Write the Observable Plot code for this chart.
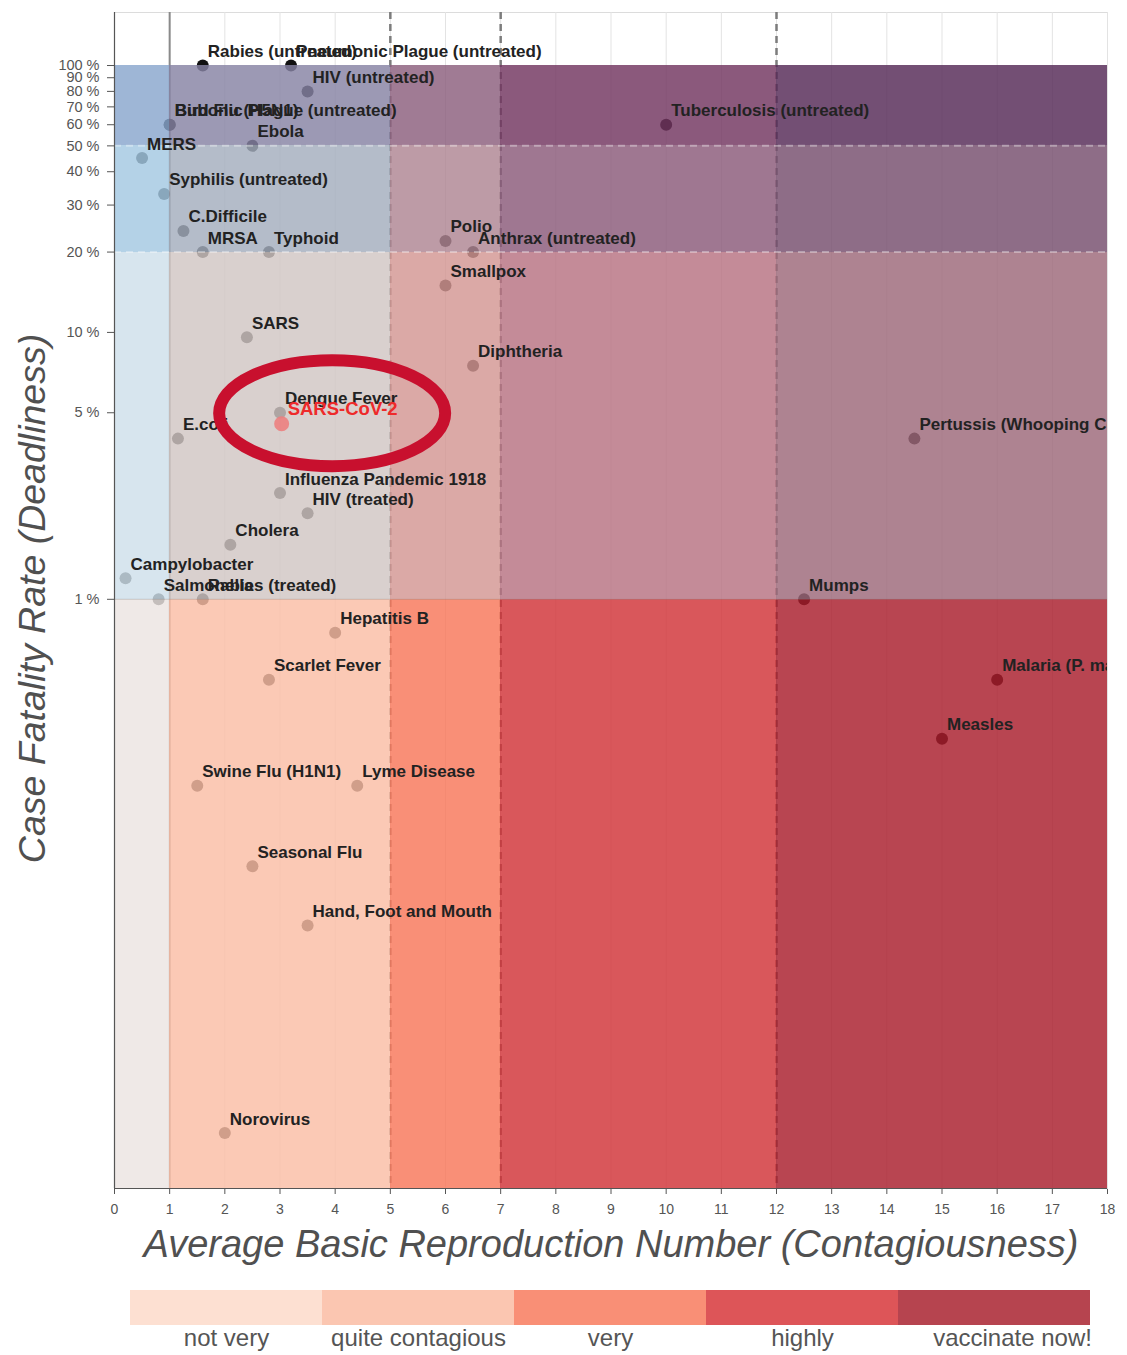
<!DOCTYPE html>
<html>
<head>
<meta charset="utf-8">
<script src="https://cdn.jsdelivr.net/npm/d3@7"></script>
<script src="https://cdn.jsdelivr.net/npm/@observablehq/plot@0.6"></script>
<style>
  body { margin: 0; background: #fff; font-family: "Liberation Sans", Arial, sans-serif; }
  #chart svg, #legend svg { display: block; }
</style>
</head>
<body>
<div id="chart"></div>
<div id="legend"></div>
<script>
// ---- data ----
const diseases = [
  "Rabies (untreated)", "Pneumonic Plague (untreated)", "HIV (untreated)", "Bird Flu (H5N1)",
  "Bubonic Plague (untreated)", "Tuberculosis (untreated)", "Ebola", "MERS", "Syphilis (untreated)",
  "C.Difficile", "MRSA", "Typhoid", "Polio", "Anthrax (untreated)", "Smallpox", "SARS", "Diphtheria",
  "Dengue Fever", "E.coli", "Pertussis (Whooping Cough)", "Influenza Pandemic 1918", "HIV (treated)",
  "Cholera", "Campylobacter", "Salmonella", "Rabies (treated)", "Mumps", "Hepatitis B", "Scarlet Fever",
  "Malaria (P. malariae)", "Measles", "Swine Flu (H1N1)", "Lyme Disease", "Seasonal Flu",
  "Hand, Foot and Mouth", "Norovirus"
];
const r0Values = [
  1.6, 3.2, 3.5, 1.0,
  1.0, 10, 2.5, 0.5, 0.9,
  1.25, 1.6, 2.8, 6, 6.5, 6, 2.4, 6.5,
  3, 1.15, 14.5, 3, 3.5,
  2.1, 0.2, 0.8, 1.6, 12.5, 4, 2.8,
  16, 15, 1.5, 4.4, 2.5,
  3.5, 2
];
const cfrValues = [
  100, 100, 80, 60,
  60, 60, 50, 45, 33,
  24, 20, 20, 22, 20, 15, 9.6, 7.5,
  5, 4, 4, 2.5, 2.1,
  1.6, 1.2, 1, 1, 1, 0.75, 0.5,
  0.5, 0.3, 0.2, 0.2, 0.1,
  0.06, 0.01
];
const highlightName = "SARS-CoV-2";
const highlightR0 = 3.03;
const highlightCfr = 4.55;

const r0Breaks = [0, 1, 5, 7, 12, 18];
const cfrBreaks = [0.0062, 1, 20, 50, 100];
const yTicks = [1, 5, 10, 20, 30, 40, 50, 60, 70, 80, 90, 100];
const xTicks = d3.range(0, 19);
const yDomain = [0.0062, 158];

const legendLabels = ["not very", "quite contagious", "very", "highly", "vaccinate now!"];
const legendColors = ["#fde0d2", "#fbc6b1", "#f98f76", "#dd5558", "#b6444f"];

// visible zone colours (rows: bottom -> top, columns: left -> right)
const zoneColors = [
  ["#efe9e7", "#fbc9b5", "#f98f77", "#d9575b", "#b84551"],
  ["#d7e5ee", "#d9d0ce", "#dba9a6", "#c48b98", "#ae8391"],
  ["#b4d2e7", "#b4bcc9", "#bd9ba6", "#9f7791", "#8e6d87"],
  ["#9eb6d6", "#9c99b4", "#a07b94", "#8b597c", "#734f74"]
];

// ---- build tables ----
const points = diseases.map((name, i) => ({name, r0: r0Values[i], cfr: cfrValues[i]}));
const highlight = [{name: highlightName, r0: highlightR0, cfr: highlightCfr}];

const alpha = 0.82;
function baseColor(hex) {
  const c = d3.rgb(hex);
  const f = v => Math.max(0, Math.min(255, (v - (1 - alpha) * 255) / alpha));
  return d3.rgb(f(c.r), f(c.g), f(c.b)).formatHex();
}
const cells = [];
for (let r = 0; r < cfrBreaks.length - 1; r++) {
  for (let c = 0; c < r0Breaks.length - 1; c++) {
    cells.push({
      x1: r0Breaks[c], x2: r0Breaks[c + 1],
      y1: cfrBreaks[r], y2: cfrBreaks[r + 1],
      fill: baseColor(zoneColors[r][c])
    });
  }
}

const labelFont = '"Liberation Sans", Arial, sans-serif';

const ellipseMark = (index, scales) => {
  const cx = scales.x(highlightR0) + 51;
  const cy = scales.y(highlightCfr) - 10;
  return d3.create("svg:ellipse")
    .attr("cx", cx).attr("cy", cy)
    .attr("rx", 113).attr("ry", 53)
    .attr("fill", "none")
    .attr("stroke", "#c8102e")
    .attr("stroke-width", 12)
    .node();
};

const chart = Plot.plot({
  width: 1127,
  height: 1280,
  marginLeft: 114,
  marginRight: 20,
  marginTop: 12,
  marginBottom: 92,
  style: {fontFamily: labelFont, fontSize: "14px", color: "#555", background: "#fff"},
  color: {type: "identity"},
  x: {domain: [0, 18], ticks: xTicks, tickSize: 6, tickPadding: 10, label: null},
  y: {type: "log", domain: yDomain, ticks: yTicks, tickFormat: () => "", tickSize: 7, tickPadding: 5, label: null},
  marks: [
    Plot.frame({stroke: "#dcdcdc"}),
    Plot.ruleX(xTicks, {stroke: "#e3e3e3", strokeWidth: 1}),
    Plot.ruleX([1], {stroke: "#8a8a8a", strokeWidth: 2}),
    Plot.ruleX([5, 7, 12], {stroke: "#7c7c7c", strokeWidth: 2.5, strokeDasharray: "7,5"}),
    Plot.dot(points, {x: "r0", y: "cfr", r: 6, fill: "#111", stroke: "none"}),
    Plot.rect(cells, {x1: "x1", x2: "x2", y1: "y1", y2: "y2", fill: "fill", fillOpacity: alpha, shapeRendering: "crispEdges"}),
    Plot.ruleY([20, 50], {x1: 0, x2: 18, stroke: "#fff", strokeOpacity: 0.35, strokeWidth: 2, strokeDasharray: "7,5"}),
    Plot.ruleY([1], {x1: 0, x2: 18, stroke: "#888", strokeOpacity: 0.35, strokeWidth: 1}),
    Plot.dot(highlight, {x: "r0", y: "cfr", r: 7.5, fill: "#ec8080", fillOpacity: 0.9, stroke: "none"}),
    Plot.text(points, {x: "r0", y: "cfr", text: "name", dx: 5, dy: -14, textAnchor: "start", lineAnchor: "middle",
      fontSize: 17, fontWeight: "bold", fill: "#222", clip: "frame"}),
    Plot.text(highlight, {x: "r0", y: "cfr", text: "name", dx: 6, dy: -15, textAnchor: "start", lineAnchor: "middle",
      fontSize: 18.5, fontWeight: "bold", fill: "#ee2a2a", clip: "frame"}),
    ellipseMark,
    Plot.ruleX([0], {stroke: "#555", strokeWidth: 1.2}),
    Plot.ruleY([yDomain[0]], {stroke: "#555", strokeWidth: 1.2}),
    Plot.text(yTicks, {y: d => d, text: d => `${d} %`, frameAnchor: "left", dx: -15, textAnchor: "end",
      lineAnchor: "middle", fontSize: 14.5, fill: "#555"}),
    Plot.text(["Average Basic Reproduction Number (Contagiousness)"], {frameAnchor: "bottom", dy: 56,
      fontSize: 38, fontStyle: "italic", fill: "#505050", lineAnchor: "middle", textAnchor: "middle"}),
    Plot.text(["Case Fatality Rate (Deadliness)"], {frameAnchor: "left", dx: -82, dy: -2, rotate: -90,
      fontSize: 37.5, fontStyle: "italic", fill: "#505050", lineAnchor: "middle", textAnchor: "middle"})
  ]
});
document.getElementById("chart").append(chart);

const legend = Plot.plot({
  width: 1127,
  height: 75,
  marginTop: 10,
  marginBottom: 30,
  marginLeft: 128,
  marginRight: 35,
  style: {fontFamily: labelFont, fontSize: "24px", color: "#555", background: "#fff"},
  color: {type: "identity"},
  x: {type: "band", domain: legendLabels, padding: 0, axis: null},
  marks: [
    Plot.cell(legendLabels, {x: d => d, fill: (d, i) => legendColors[i]}),
    Plot.text(legendLabels.slice(0, 4), {x: d => d, frameAnchor: "bottom", dy: 3, lineAnchor: "top",
      fontSize: 24, fill: "#555"}),
    Plot.text(legendLabels.slice(4), {x: d => d, frameAnchor: "bottom", dx: 18, dy: 3, lineAnchor: "top",
      fontSize: 24, fill: "#555"})
  ]
});
document.getElementById("legend").append(legend);
</script>
</body>
</html>
